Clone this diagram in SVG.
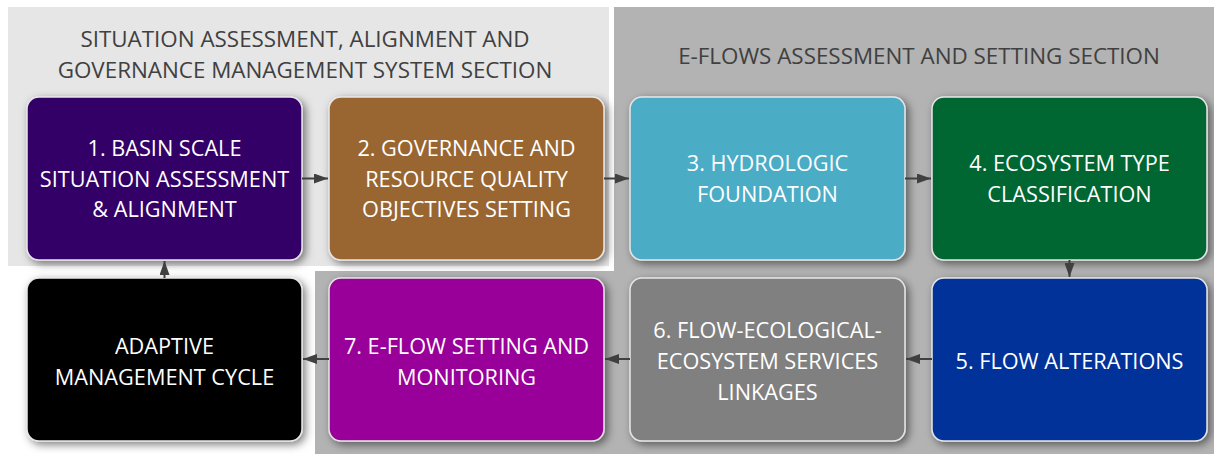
<svg xmlns="http://www.w3.org/2000/svg" width="1214" height="454" viewBox="0 0 1214 454">
  <defs>
    <filter id="sh" x="-10%" y="-10%" width="125%" height="130%">
      <feDropShadow dx="3" dy="3" stdDeviation="4.5" flood-color="#000" flood-opacity="0.5"/>
    </filter>
    <marker id="ah" viewBox="0 0 14 10" refX="14" refY="5" markerWidth="14" markerHeight="10" markerUnits="userSpaceOnUse" orient="auto">
      <path d="M0,0 L14,5 L0,10 Z" fill="#404040"/>
    </marker>
    <style>
      .box { stroke: #e6e6e6; stroke-width: 1.5; filter: url(#sh); }
      .lbl { font-family: "Open Sans", "Liberation Sans", sans-serif; font-size: 21.7px; fill: #ffffff; text-anchor: middle; }
      .hdr { font-family: "Open Sans", "Liberation Sans", sans-serif; font-size: 22.4px; fill: #404040; text-anchor: middle; }
      .con { stroke: #404040; stroke-width: 2; fill: none; marker-end: url(#ah); }
    </style>
  </defs>
  <rect width="1214" height="454" fill="#ffffff"/>
  <g id="section-left">
    <rect x="8" y="7" width="601" height="259" fill="#e6e6e6"/>
    <text class="hdr" x="305" y="47">SITUATION ASSESSMENT, ALIGNMENT AND</text>
    <text class="hdr" x="305" y="78">GOVERNANCE MANAGEMENT SYSTEM SECTION</text>
  </g>
  <g id="section-right">
    <path d="M614,7 H1214 V454 H315 V271 H614 Z" fill="#b3b3b3"/>
    <text class="hdr" x="919" y="64">E-FLOWS ASSESSMENT AND SETTING SECTION</text>
  </g>
  <g id="n1">
    <rect class="box" x="27" y="97" width="275" height="163" rx="12" fill="#330066"/>
    <text class="lbl" x="164.5" y="156">1. BASIN SCALE</text>
    <text class="lbl" x="164.5" y="187">SITUATION ASSESSMENT</text>
    <text class="lbl" x="164.5" y="217">&amp; ALIGNMENT</text>
  </g>
  <g id="n2">
    <rect class="box" x="329" y="97" width="275" height="163" rx="12" fill="#996633"/>
    <text class="lbl" x="466.5" y="156">2. GOVERNANCE AND</text>
    <text class="lbl" x="466.5" y="187">RESOURCE QUALITY</text>
    <text class="lbl" x="466.5" y="217">OBJECTIVES SETTING</text>
  </g>
  <g id="n3">
    <rect class="box" x="630" y="97" width="275" height="163" rx="12" fill="#4bacc6"/>
    <text class="lbl" x="767.5" y="171">3. HYDROLOGIC</text>
    <text class="lbl" x="767.5" y="202">FOUNDATION</text>
  </g>
  <g id="n4">
    <rect class="box" x="932" y="97" width="275" height="163" rx="12" fill="#006633"/>
    <text class="lbl" x="1069.5" y="171">4. ECOSYSTEM TYPE</text>
    <text class="lbl" x="1069.5" y="202">CLASSIFICATION</text>
  </g>
  <g id="n5">
    <rect class="box" x="932" y="278" width="275" height="163" rx="12" fill="#003399"/>
    <text class="lbl" x="1069.5" y="369">5. FLOW ALTERATIONS</text>
  </g>
  <g id="n6">
    <rect class="box" x="630" y="278" width="275" height="163" rx="12" fill="#808080"/>
    <text class="lbl" x="767.5" y="338">6. FLOW-ECOLOGICAL-</text>
    <text class="lbl" x="767.5" y="369">ECOSYSTEM SERVICES</text>
    <text class="lbl" x="767.5" y="400">LINKAGES</text>
  </g>
  <g id="n7">
    <rect class="box" x="329" y="278" width="275" height="163" rx="12" fill="#990099"/>
    <text class="lbl" x="466.5" y="354">7. E-FLOW SETTING AND</text>
    <text class="lbl" x="466.5" y="385">MONITORING</text>
  </g>
  <g id="n8">
    <rect class="box" x="27" y="278" width="275" height="163" rx="12" fill="#000000"/>
    <text class="lbl" x="164.5" y="354">ADAPTIVE</text>
    <text class="lbl" x="164.5" y="385">MANAGEMENT CYCLE</text>
  </g>
  <g id="connectors">
    <line class="con" x1="302" y1="178.5" x2="328" y2="178.5"/>
    <line class="con" x1="604" y1="178.5" x2="629" y2="178.5"/>
    <line class="con" x1="905" y1="178.5" x2="931" y2="178.5"/>
    <line class="con" x1="1069.5" y1="260" x2="1069.5" y2="277"/>
    <line class="con" x1="932" y1="359" x2="906" y2="359"/>
    <line class="con" x1="630" y1="359" x2="605" y2="359"/>
    <line class="con" x1="329" y1="359" x2="303" y2="359"/>
    <line class="con" x1="164.5" y1="278" x2="164.5" y2="261"/>
  </g>
</svg>
